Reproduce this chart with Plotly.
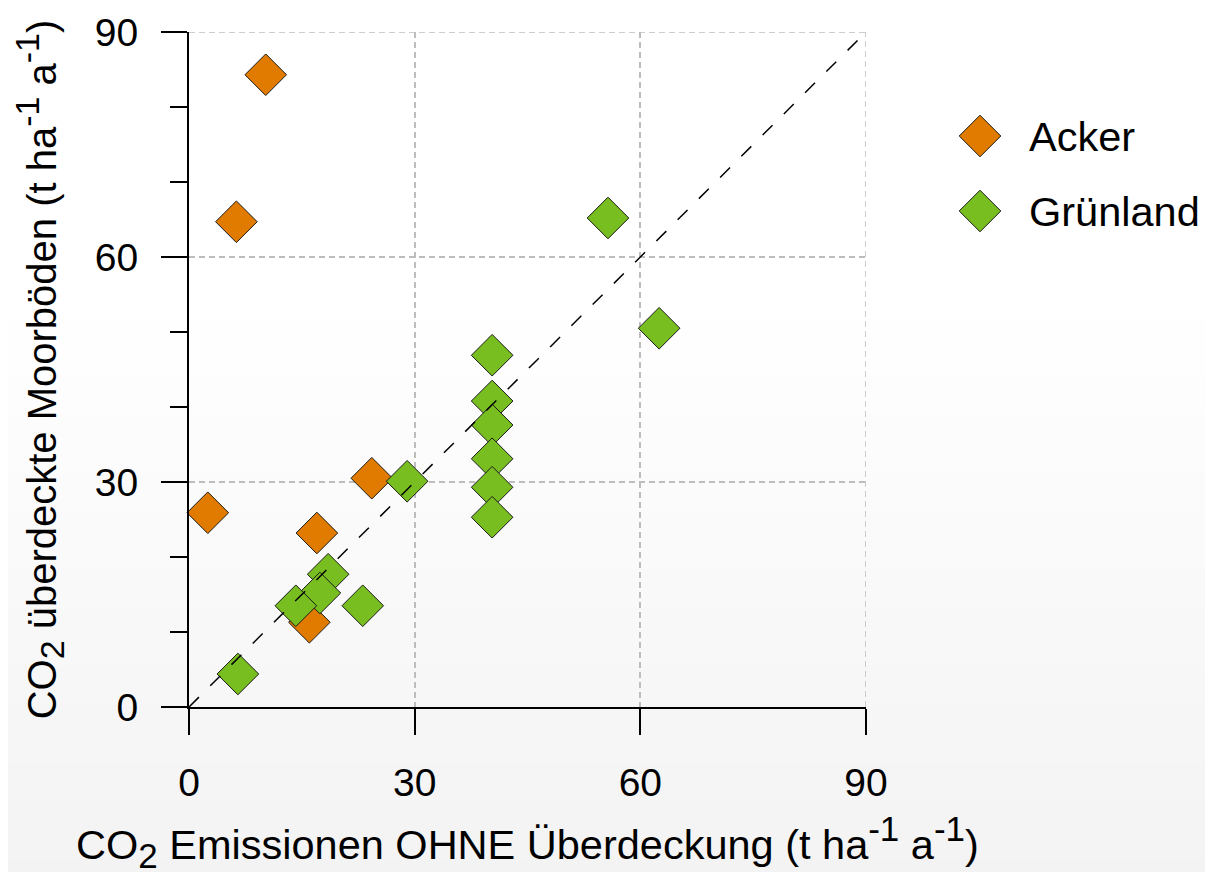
import plotly.graph_objects as go

# ---------------- data ----------------
categories = ["Acker", "Grünland"]
colors = ["#E07B00", "#78BE20"]

acker_x = [10.2, 6.3, 2.5, 24.3, 17.0, 16.0]
acker_y = [84.3, 64.7, 25.9, 30.5, 23.2, 11.3]

gruen_x = [55.7, 62.5, 40.3, 40.3, 40.3, 40.3, 40.3, 40.3, 29.0, 18.5, 17.4, 14.2, 23.1, 6.5]
gruen_y = [65.2, 50.5, 46.9, 40.8, 37.6, 33.1, 29.3, 25.3, 30.1, 17.7, 15.2, 13.5, 13.5, 4.4]

ref_line = [0, 90]
tick_vals = [0, 30, 60, 90]
axis_max = 90


def script(tag, txt, px):
    return f"<{tag}><span style='font-size:{px}px'>{txt}</span></{tag}>"


x_title = ("CO" + script("sub", "2", 35) + " Emissionen OHNE Überdeckung (t ha"
           + script("sup", "-1", 35) + " a" + script("sup", "-1", 35) + ")")
y_title = ("CO" + script("sub", "2", 34) + " überdeckte Moorböden (t ha"
           + script("sup", "-1", 34) + " a" + script("sup", "-1", 34) + ")")

# ---------------- layout geometry ----------------
# the page places the figure with an 8px body margin; compensate so that the
# plot area lands at page pixels x 189..866, y 32..707
OFF = 8
W, H = 1213, 872
ML, MT = 189 - OFF, 32 - OFF
MR = 10
MB = H - (707 - OFF)
PW = W - ML - MR
PH = H - MT - MB
FONT = "Arial, Liberation Sans, sans-serif"
FS = 39


def px_to_px(x):
    return (x - OFF - ML) / PW


def py_to_py(y):
    return (H - MB - (y - OFF)) / PH


fig = go.Figure()

marker_common = dict(symbol="diamond", size=32, line=dict(color="#1a1a1a", width=1))

series = [(acker_x, acker_y), (gruen_x, gruen_y)]
for (xs, ys), name, col in zip(series, categories, colors):
    fig.add_trace(go.Scatter(
        x=xs, y=ys, mode="markers", name=name, showlegend=False,
        marker=dict(color=col, **marker_common),
        xaxis="x", yaxis="y", cliponaxis=False,
    ))

fig.add_trace(go.Scatter(
    x=ref_line, y=ref_line, mode="lines", showlegend=False,
    line=dict(color="black", width=1.5, dash="14px,16px"),
    xaxis="x", yaxis="y",
))

# grid lines at the far edges (Plotly drops gridlines lying on the plot edge)
edge_grid = dict(color="#bdbdbd", width=1.5, dash="6px,4px")
fig.add_shape(type="line", xref="x", yref="y", layer="below",
              x0=axis_max, x1=axis_max, y0=0, y1=axis_max, line=edge_grid)
fig.add_shape(type="line", xref="x", yref="y", layer="below",
              x0=0, x1=axis_max, y0=axis_max, y1=axis_max, line=edge_grid)

# manual legend (large symbols) on a helper axis pair
for i, (name, col) in enumerate(zip(categories, colors)):
    fig.add_trace(go.Scatter(
        x=[0], y=[i], mode="markers", showlegend=False,
        marker=dict(color=col, **marker_common),
        xaxis="x2", yaxis="y2", cliponaxis=False, hoverinfo="skip",
    ))
    fig.add_annotation(
        x=px_to_px(1027), xref="paper", y=i, yref="y2",
        text=name, showarrow=False, xanchor="left", yanchor="middle",
        font=dict(family=FONT, size=41.5, color="black"),
    )

# background gradient (white at top -> light grey at bottom)
n = 60
y_start = 300
y_end = H + OFF
for k in range(n):
    y0 = y_start + (y_end - y_start) * k / n
    y1 = y_start + (y_end - y_start) * (k + 1) / n
    t = (k + 0.5) / n
    g = round(255 - 12 * t)
    fig.add_shape(
        type="rect", xref="paper", yref="paper", layer="below",
        x0=px_to_px(0) - 0.01, x1=px_to_px(W + OFF) + 0.01,
        y0=py_to_py(y1), y1=py_to_py(y0) + 0.002,
        fillcolor=f"rgb({g},{g},{g})", line=dict(width=0),
    )

tick_font = dict(family=FONT, size=FS, color="black")
grid_common = dict(showgrid=True, gridcolor="#bdbdbd", gridwidth=1.5, griddash="6px,4px",
                   zeroline=False, showline=True, linecolor="black", linewidth=2,
                   ticks="outside", ticklen=26, tickwidth=2, tickcolor="black",
                   tickfont=tick_font, tickvals=tick_vals, range=[0, axis_max],
                   automargin=False)

fig.update_layout(
    width=W, height=H,
    margin=dict(l=ML, r=MR, t=MT, b=MB),
    paper_bgcolor="white", plot_bgcolor="rgba(0,0,0,0)",
    font=dict(family=FONT, size=FS, color="black"),
    showlegend=False,
    xaxis=dict(domain=[0, 677 / PW], **grid_common,
               title=dict(text=x_title, font=dict(family=FONT, size=41.5, color="black"),
                          standoff=27),
               ticklabelstandoff=14),
    yaxis=dict(domain=[0, 1], **grid_common,
               title=dict(text=y_title, font=dict(family=FONT, size=40, color="black"),
                          standoff=26),
               minor=dict(ticks="outside", ticklen=17, tickwidth=2, tickcolor="black",
                          dtick=10, showgrid=False),
               ticklabelstandoff=15),
    xaxis2=dict(domain=[px_to_px(960), px_to_px(1000)], range=[-1, 1], visible=False,
                anchor="y2", fixedrange=True),
    yaxis2=dict(domain=[py_to_py(248.5), py_to_py(98.5)], range=[1.5, -0.5], visible=False,
                anchor="x2", fixedrange=True),
)

fig.write_html("out.html")
